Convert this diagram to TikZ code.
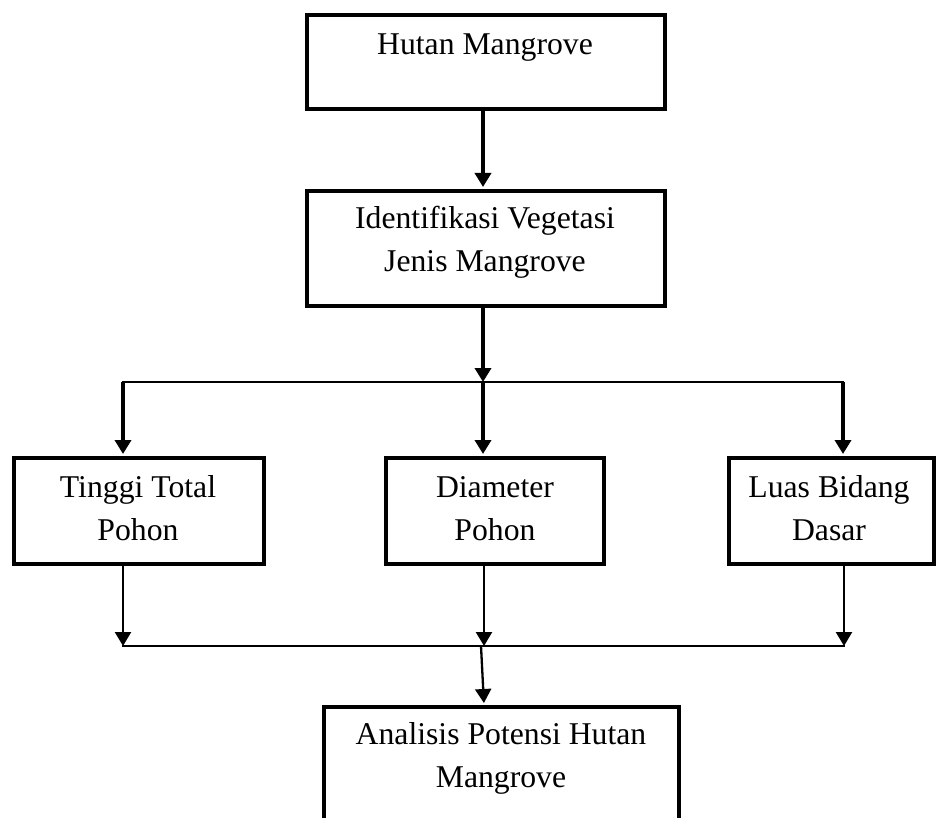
\documentclass[tikz,border=0pt]{standalone}
\usepackage{fontspec}
\setmainfont{Liberation Serif}
\usetikzlibrary{arrows.meta}
\tikzset{
  box/.style={draw=black, line width=4pt, rectangle, inner sep=0pt},
  lbl/.style={anchor=base, inner sep=0pt, font=\fontsize{31.7pt}{43pt}\selectfont},
  tip/.style={-{Triangle[width=16pt,length=14pt]}},
  thk/.style={tip, line width=3.5pt},
  thn/.style={tip, line width=2.3pt},
  hline/.style={line width=2pt, line cap=rect}
}
\begin{document}
\begin{tikzpicture}[x=1pt,y=-1pt]
\clip (0,0) rectangle (939,818);
\useasboundingbox (0,0) rectangle (939,818);
% boxes
\node[box, minimum width=358pt, minimum height=94pt] (A) at (486,62) {};
\node[box, minimum width=358pt, minimum height=115pt] (B) at (486,248.5) {};
\node[box, minimum width=250pt, minimum height=106pt] (T) at (139,511) {};
\node[box, minimum width=218pt, minimum height=106pt] (D) at (495,511) {};
\node[box, minimum width=205pt, minimum height=106pt] (L) at (831.5,511) {};
\node[box, minimum width=355pt, minimum height=151pt] (E) at (501.5,782.5) {};
% labels
\node[lbl] (A1) at (485,55) {Hutan Mangrove};
\node[lbl] (B1) at (485,229) {Identifikasi Vegetasi};
\node[lbl] (B2) at (485,272) {Jenis Mangrove};
\node[lbl] (T1) at (138,497) {Tinggi Total};
\node[lbl] (T2) at (138,540) {Pohon};
\node[lbl] (D1) at (495,497) {Diameter};
\node[lbl] (D2) at (495,540) {Pohon};
\node[lbl] (L1) at (829,497) {Luas Bidang};
\node[lbl] (L2) at (829,540) {Dasar};
\node[lbl] (E1) at (501,744) {Analisis Potensi Hutan};
\node[lbl] (E2) at (501,787) {Mangrove};
% junction points
\coordinate (jl) at (123,382);
\coordinate (jt) at (483,382);
\coordinate (jr) at (843,382);
\coordinate (kl) at (123,646);
\coordinate (kb) at (484,646);
\coordinate (kr) at (844,646);
\coordinate (ks) at (481,646);
% connectors
\draw[thk, shorten >=2pt] (A.south -| jt) -- (B.north -| jt);
\draw[thk] (B.south -| jt) -- (jt);
\draw[hline] (jl) -- (jr);
\draw[thk, shorten >=2pt] (jl) -- (T.north -| jl);
\draw[thk, shorten >=2pt] (jt) -- (D.north -| jt);
\draw[thk, shorten >=2pt] (jr) -- (L.north -| jr);
\draw[thn] (T.south -| kl) -- (kl);
\draw[thn] (D.south -| kb) -- (kb);
\draw[thn] (L.south -| kr) -- (kr);
\draw[hline, line width=1.6pt] (kl) -- (kr);
\draw[thn, shorten >=2pt] (ks) -- (E.north -| kb);
\end{tikzpicture}
\end{document}
